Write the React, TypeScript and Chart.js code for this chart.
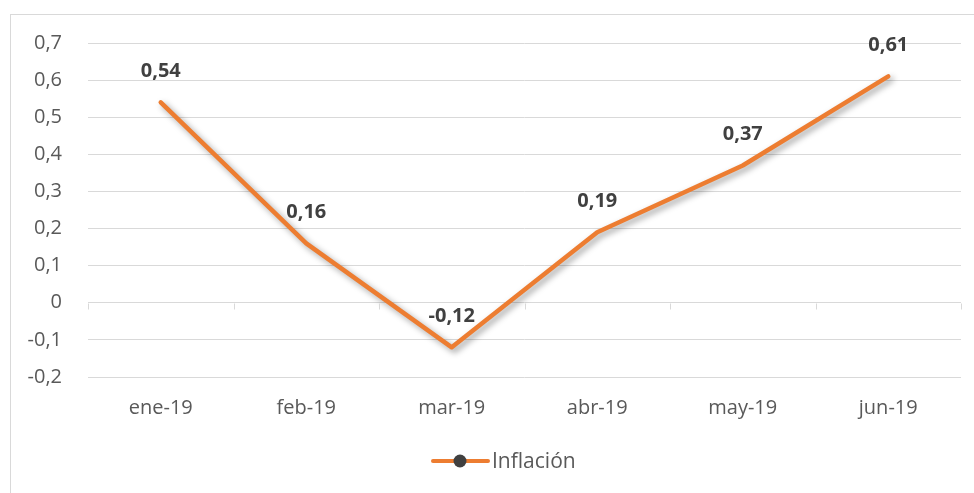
import React, { useEffect, useRef } from "react";
import { Chart, registerables } from "chart.js";

Chart.register(...registerables);

const categories = ["ene-19", "feb-19", "mar-19", "abr-19", "may-19", "jun-19"];
const inflacion = [0.54, 0.16, -0.12, 0.19, 0.37, 0.61];
const seriesName = "Inflación";
const yMin = -0.2;
const yMax = 0.7;
const yStep = 0.1;

const FONT = "'Open Sans', sans-serif";
const ORANGE = "#ED7D31";
const TEXT = "#595959";
const GRID = "#d9d9d9";

const fmtTick = (v: number) => {
  const r = Math.round(v * 10) / 10;
  if (r === 0) return "0";
  return r.toFixed(1).replace(".", ",");
};
const fmtLabel = (v: number) => v.toFixed(2).replace(".", ",");

const shadowPlugin = {
  id: "lineShadow",
  beforeDatasetDraw(chart: any) {
    const ctx = chart.ctx;
    ctx.save();
    ctx.shadowColor = "rgba(0,0,0,0.38)";
    ctx.shadowBlur = 6;
    ctx.shadowOffsetX = 3;
    ctx.shadowOffsetY = 3;
  },
  afterDatasetDraw(chart: any) {
    chart.ctx.restore();
  },
};

const decorPlugin = {
  id: "decor",
  beforeDraw(chart: any) {
    const ctx = chart.ctx;
    ctx.save();
    ctx.fillStyle = "#ffffff";
    ctx.fillRect(0, 0, chart.width, chart.height);
    ctx.strokeStyle = GRID;
    ctx.lineWidth = 1;
    ctx.strokeRect(10.5, 14.5, chart.width + 20, chart.height + 20);
    ctx.restore();
  },
  afterDraw(chart: any) {
    const ctx = chart.ctx;
    const xs = chart.scales.x;
    const ys = chart.scales.y;
    const area = chart.chartArea;
    // tick marks on the zero line at category boundaries
    const y0 = Math.round(ys.getPixelForValue(0)) + 0.5;
    const bounds: number[] = [area.left];
    for (let i = 0; i < categories.length - 1; i++) {
      bounds.push((xs.getPixelForValue(i) + xs.getPixelForValue(i + 1)) / 2);
    }
    bounds.push(area.right);
    ctx.save();
    ctx.strokeStyle = GRID;
    ctx.lineWidth = 1;
    bounds.forEach((bx) => {
      const x = Math.round(bx) + 0.5;
      ctx.beginPath();
      ctx.moveTo(x, y0);
      ctx.lineTo(x, y0 + 6);
      ctx.stroke();
    });
    ctx.restore();

    // data labels
    const meta = chart.getDatasetMeta(0);
    ctx.save();
    ctx.font = `bold 20px ${FONT}`;
    ctx.fillStyle = "#404040";
    ctx.textAlign = "center";
    ctx.textBaseline = "middle";
    meta.data.forEach((pt: any, i: number) => {
      ctx.fillText(fmtLabel(inflacion[i]), pt.x, pt.y - 31);
    });
    ctx.restore();

    // legend
    const cx = chart.width / 2;
    const ly = 461;
    ctx.save();
    ctx.strokeStyle = ORANGE;
    ctx.lineWidth = 4;
    ctx.lineCap = "round";
    ctx.beginPath();
    ctx.moveTo(cx - 54, ly);
    ctx.lineTo(cx + 1, ly);
    ctx.stroke();
    ctx.fillStyle = "#404040";
    ctx.beginPath();
    ctx.arc(cx - 27, ly, 6.5, 0, Math.PI * 2);
    ctx.fill();
    ctx.font = `21px ${FONT}`;
    ctx.fillStyle = TEXT;
    ctx.textAlign = "left";
    ctx.textBaseline = "middle";
    ctx.fillText(seriesName, cx + 5, ly + 1);
    ctx.restore();
  },
};

export default function App() {
  const ref = useRef<HTMLCanvasElement | null>(null);
  useEffect(() => {
    if (!ref.current) return;
    const chart = new Chart(ref.current, {
      type: "line",
      data: {
        labels: categories,
        datasets: [
          {
            label: seriesName,
            data: inflacion,
            borderColor: ORANGE,
            backgroundColor: ORANGE,
            borderWidth: 4.5,
            borderCapStyle: "round",
            borderJoinStyle: "round",
            pointRadius: 0,
            pointHoverRadius: 0,
            tension: 0,
          },
        ],
      },
      options: {
        responsive: true,
        maintainAspectRatio: false,
        animation: false,
        events: [],
        layout: { padding: { top: 43, right: 13, bottom: 0, left: 0 } },
        plugins: {
          legend: { display: false },
          tooltip: { enabled: false },
        },
        scales: {
          x: {
            offset: true,
            grid: { display: false, drawTicks: false },
            border: { display: false },
            ticks: {
              color: TEXT,
              font: { family: FONT, size: 20 },
              padding: 19,
              maxRotation: 0,
            },
            afterFit(scale: any) {
              scale.height = 116;
            },
          },
          y: {
            min: yMin,
            max: yMax,
            grid: { color: GRID, lineWidth: 1, drawTicks: false },
            border: { display: false },
            ticks: {
              stepSize: yStep,
              color: TEXT,
              font: { family: FONT, size: 20 },
              padding: 26,
              callback: (v: any) => fmtTick(Number(v)),
            },
            afterFit(scale: any) {
              scale.width = 88;
            },
          },
        },
      },
      plugins: [decorPlugin, shadowPlugin],
    });
    return () => chart.destroy();
  }, []);
  return (
    <div style={{ position: "absolute", left: 0, top: 0, width: 974, height: 493 }}>
      <canvas ref={ref} />
    </div>
  );
}
